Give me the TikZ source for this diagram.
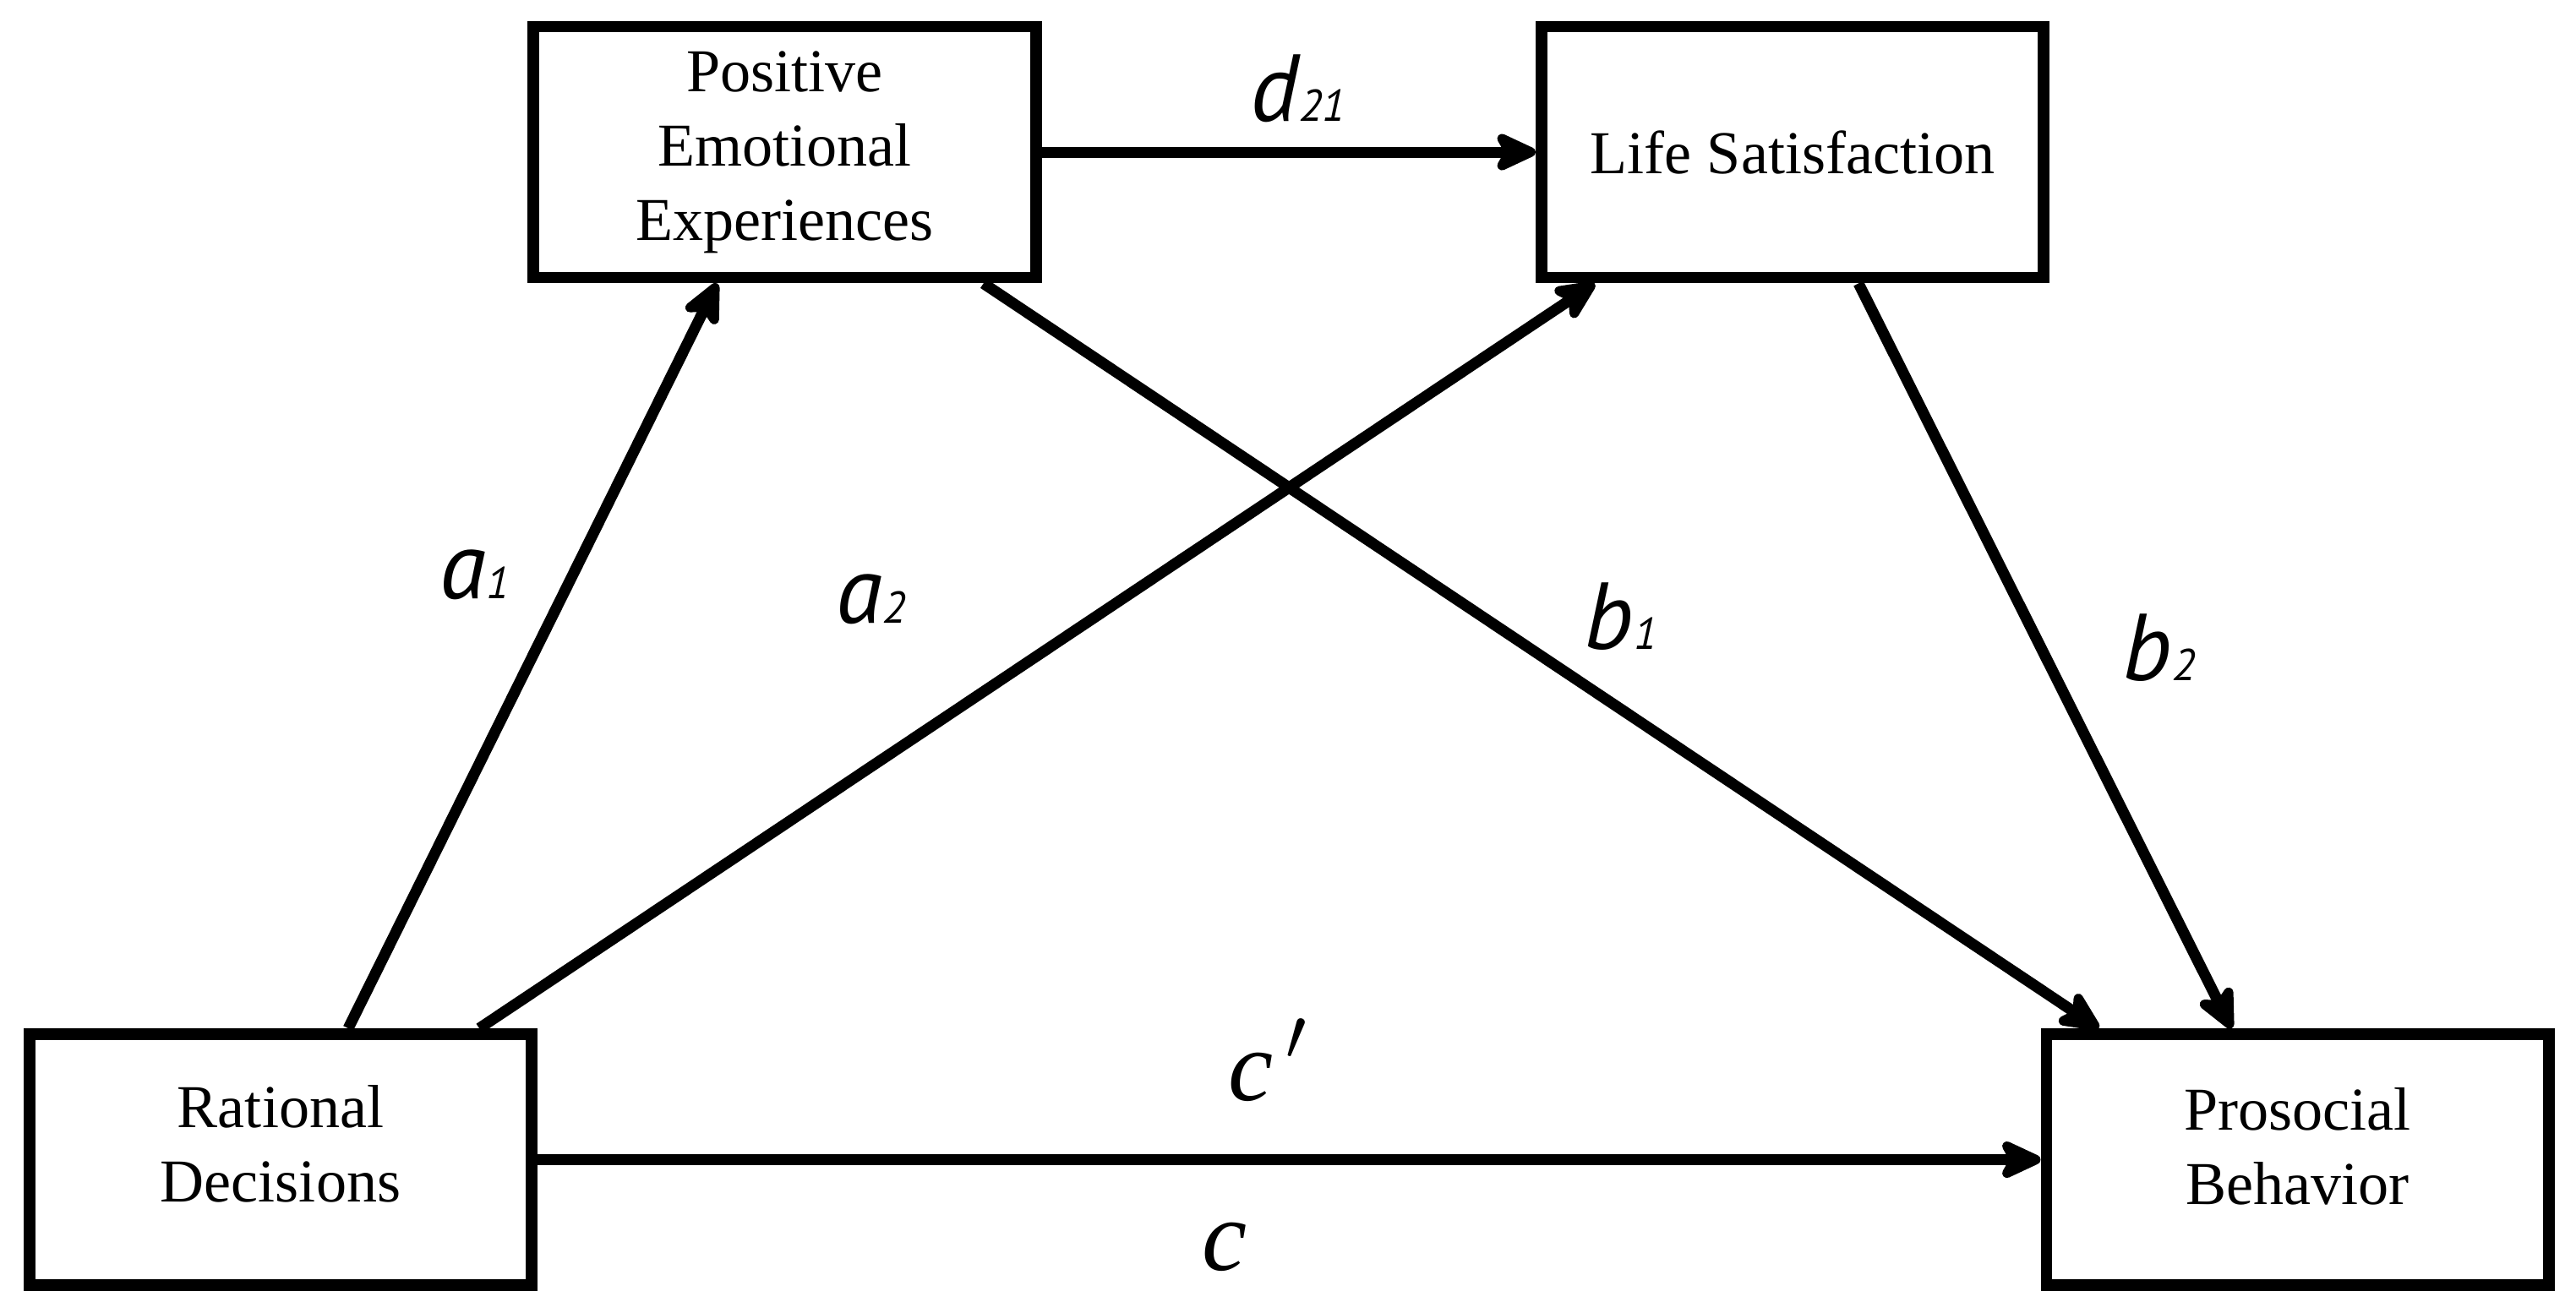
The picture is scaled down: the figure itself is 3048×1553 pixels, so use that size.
\documentclass[tikz,border=0pt]{standalone}
\usepackage{fontspec}
\setmainfont{Liberation Serif}
\newfontfamily\labfont{PT Sans}
\usetikzlibrary{arrows.meta}
\begin{document}
\begin{tikzpicture}[x=0.01cm,y=-0.01cm,
  box/.style={draw, line width=3.9pt, rectangle, minimum width=5.94cm, minimum height=2.97cm,
    align=center, font=\fontsize{20.5}{25}\selectfont, inner sep=0pt},
  arr/.style={line width=3.7pt, -{Stealth[length=0.6cm, width=0.55cm, inset=0.15cm, round]}},
  lab/.style={anchor=base west, inner sep=0pt, font=\labfont\itshape\fontsize{32}{32}\selectfont},
  clab/.style={anchor=base west, inner sep=0pt, font=\itshape\fontsize{34}{34}\selectfont}
]
\useasboundingbox (0,0) rectangle (3048,1553);
\fill[white] (0,0) rectangle (3048,1553);

\node[box] (pee) at (928.5,180) {Positive\\Emotional\\Experiences};
\node[box] (ls) at (2121,180) {Life Satisfaction};
\node[box] (rd) at (332,1372.5) {Rational\\Decisions\\[-0.5cm]\mbox{}};
\node[box] (pb) at (2718.5,1372.5) {Prosocial\\Behavior\\[-0.56cm]\mbox{}};

\newcommand{\sub}[1]{{\fontsize{15}{15}\selectfont #1}}

\draw[arr] (pee.east) -- (ls.west);
\draw[arr] ([xshift=0.8cm]rd.north) -- ([xshift=-0.8cm]pee.south);
\draw[arr] ([xshift=2.35cm]rd.north) -- ([xshift=-2.34cm]ls.south);
\draw[arr] ([xshift=2.35cm]pee.south) -- ([xshift=-2.35cm]pb.north);
\draw[arr] ([xshift=0.78cm]ls.south) -- ([xshift=-0.78cm]pb.north);
\draw[arr] (rd.east) -- (pb.west);

\node[lab] (la1) at (520,708) {a\sub{1}};
\node[lab] (la2) at (989,737) {a\sub{2}};
\node[lab] (lb1) at (1874,768) {b\sub{1}};
\node[lab] (lb2) at (2511,805) {b\sub{2}};
\node[lab] (ld) at (1479,143) {d\sub{21}};
\node[clab] (lcp) at (1453,1302) {c\hspace{0.12em}\raisebox{0.4em}{\upshape\fontsize{30}{30}\selectfont$\prime$}};
\node[clab] (lc) at (1422,1503) {c};
\end{tikzpicture}
\end{document}
